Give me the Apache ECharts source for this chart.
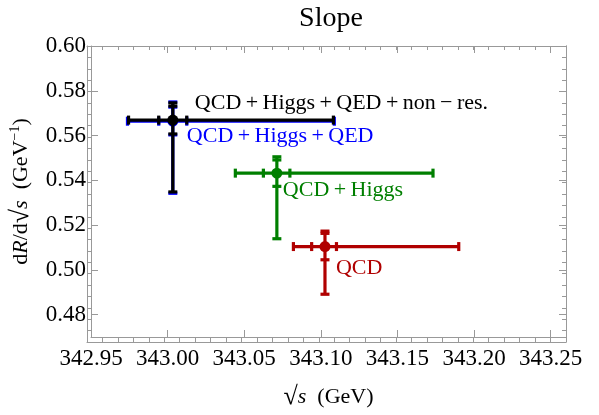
<!DOCTYPE html>
<html>
<head>
<meta charset="utf-8">
<script src="https://cdn.jsdelivr.net/npm/echarts@6/dist/echarts.min.js"></script>
<style>
  html, body { margin: 0; padding: 0; background: #fff; }
  #chart { width: 599px; height: 415px; }
</style>
</head>
<body>
<div id="chart"></div>
<script>
// series, drawn in this order (black on top of blue)
var names = ['QCD', 'QCD+Higgs', 'QCD+Higgs+QED', 'QCD+Higgs+QED+non−res.'];
var colors = ['#b00000', '#007f00', '#0000ff', '#000000'];

// central values
var xVals = [343.1027, 343.0713, 343.0034, 343.0034];
var yVals = [0.5104, 0.5432, 0.5664, 0.5669];

// total error range (outer caps)
var xLow  = [343.0821, 343.0442, 342.9738, 342.9745];
var xHigh = [343.1900, 343.1732, 343.1088, 343.1082];
var yLow  = [0.4891, 0.5139, 0.5342, 0.5348];
var yHigh = [0.5173, 0.5505, 0.5750, 0.5746];

// inner error range (inner caps)
var xInLow  = [343.0940, 343.0625, 342.9942, 342.9942];
var xInHigh = [343.1102, 343.0798, 343.0125, 343.0125];
var yInLow  = [0.5045, 0.5373, 0.5603, 0.5607];
var yInHigh = [0.5163, 0.5491, 0.5727, 0.5731];

// axis ticks
var xTicks = [342.95, 343.00, 343.05, 343.10, 343.15, 343.20, 343.25];
var yTicks = [0.48, 0.50, 0.52, 0.54, 0.56, 0.58, 0.60];

// label placement relative to the point (pixels)
var labelOffsets = [[11, 22], [6, 17], [14, 15], [22, -17]];

var serif = "'Liberation Serif', 'Times New Roman', serif";
var frameColor = '#999999';

var points = xVals.map(function (x, i) {
  return [x, yVals[i], xLow[i], xHigh[i], yLow[i], yHigh[i], xInLow[i], xInHigh[i], yInLow[i], yInHigh[i]];
});

function pretty(name) {
  return name.replace(/([+−])/g, '\u2009$1\u2009');
}

function renderErrorBar(params, api) {
  var i = params.dataIndex;
  var c = colors[i];
  var p = api.coord([api.value(0), api.value(1)]);
  var xl = api.coord([api.value(2), api.value(1)]);
  var xh = api.coord([api.value(3), api.value(1)]);
  var yl = api.coord([api.value(0), api.value(4)]);
  var yh = api.coord([api.value(0), api.value(5)]);
  var xil = api.coord([api.value(6), api.value(1)]);
  var xih = api.coord([api.value(7), api.value(1)]);
  var yil = api.coord([api.value(0), api.value(8)]);
  var yih = api.coord([api.value(0), api.value(9)]);
  var cap = 4.5;
  var st = { stroke: c, lineWidth: 3.2 };
  function line(x1, y1, x2, y2) {
    return { type: 'line', shape: { x1: x1, y1: y1, x2: x2, y2: y2 }, style: st };
  }
  var off = labelOffsets[i];
  return {
    type: 'group',
    children: [
      line(xl[0], p[1], xh[0], p[1]),
      line(p[0], yl[1], p[0], yh[1]),
      line(xl[0], p[1] - cap, xl[0], p[1] + cap),
      line(xh[0], p[1] - cap, xh[0], p[1] + cap),
      line(xil[0], p[1] - cap, xil[0], p[1] + cap),
      line(xih[0], p[1] - cap, xih[0], p[1] + cap),
      line(p[0] - cap, yl[1], p[0] + cap, yl[1]),
      line(p[0] - cap, yh[1], p[0] + cap, yh[1]),
      line(p[0] - cap, yil[1], p[0] + cap, yil[1]),
      line(p[0] - cap, yih[1], p[0] + cap, yih[1]),
      { type: 'circle', shape: { cx: p[0], cy: p[1], r: 5.5 }, style: { fill: c } },
      {
        type: 'text',
        x: p[0] + off[0],
        y: p[1] + off[1],
        style: {
          text: pretty(names[i]),
          fill: c,
          font: '22px ' + serif,
          align: 'left',
          verticalAlign: 'middle'
        }
      }
    ]
  };
}

var gridBox = { left: 87, right: 33, top: 46, bottom: 73 };

function xAxisCfg(grid, pos, major) {
  return {
    type: 'value', gridIndex: grid, position: pos,
    min: 342.95, max: 343.26,
    interval: major ? 0.05 : 0.01,
    axisLine: { show: true, onZero: false, lineStyle: { color: frameColor, width: 1 } },
    axisTick: major
      ? { show: true, inside: true, length: 7, customValues: xTicks, lineStyle: { color: frameColor } }
      : { show: true, inside: true, length: 4, lineStyle: { color: frameColor } },
    axisLabel: (major && pos === 'bottom')
      ? { show: true, customValues: xTicks, margin: 10, color: '#000', fontFamily: serif, fontSize: 23,
          formatter: function (v) { return v.toFixed(2); } }
      : { show: false },
    splitLine: { show: false }
  };
}

function yAxisCfg(grid, pos, major) {
  var cfg = {
    type: 'value', gridIndex: grid, position: pos,
    min: 0.47, max: 0.60,
    axisLine: { show: true, onZero: false, lineStyle: { color: frameColor, width: 1 } },
    axisTick: major
      ? { show: true, inside: true, length: 7, customValues: yTicks, lineStyle: { color: frameColor } }
      : { show: true, inside: true, length: 4, lineStyle: { color: frameColor } },
    axisLabel: (major && pos === 'left')
      ? { show: true, customValues: yTicks, margin: 5, color: '#000', fontFamily: serif, fontSize: 23,
          formatter: function (v) { return v.toFixed(2); } }
      : { show: false },
    splitLine: { show: false }
  };
  if (!major) cfg.interval = 0.005;
  return cfg;
}

var xMainBottom = xAxisCfg(0, 'bottom', true);
xMainBottom.name = '{r|√}{i|s}  (GeV)';
xMainBottom.nameLocation = 'middle';
xMainBottom.nameGap = 47;
xMainBottom.nameTextStyle = {
  color: '#000', fontFamily: serif, fontSize: 22,
  rich: {
    r: { fontFamily: serif, fontSize: 26, fontWeight: 'bold', color: '#000' },
    i: { fontFamily: serif, fontSize: 22, fontStyle: 'italic', color: '#000' }
  }
};

var yMainLeft = yAxisCfg(0, 'left', true);
yMainLeft.name = 'd{i|R}/d{r|√}{i|s}  (GeV{sup|−1})';
yMainLeft.nameLocation = 'middle';
yMainLeft.nameGap = 57;
yMainLeft.nameTextStyle = {
  color: '#000', fontFamily: serif, fontSize: 22,
  rich: {
    r: { fontFamily: serif, fontSize: 26, fontWeight: 'bold', color: '#000' },
    i: { fontFamily: serif, fontSize: 22, fontStyle: 'italic', color: '#000' },
    sup: { fontFamily: serif, fontSize: 14, verticalAlign: 'top', color: '#000' }
  }
};

var chart = echarts.init(document.getElementById('chart'), null, { renderer: 'canvas' });
var option = {
  backgroundColor: '#fff',
  animation: false,
  title: {
    text: 'Slope',
    left: 326,
    textAlign: 'center',
    top: 0,
    textStyle: { fontFamily: serif, fontSize: 28, fontWeight: 'normal', color: '#000' }
  },
  grid: [
    Object.assign({}, gridBox),
    Object.assign({}, gridBox)
  ],
  xAxis: [
    xMainBottom,
    xAxisCfg(0, 'top', true),
    xAxisCfg(1, 'bottom', false),
    xAxisCfg(1, 'top', false)
  ],
  yAxis: [
    yMainLeft,
    yAxisCfg(0, 'right', true),
    yAxisCfg(1, 'left', false),
    yAxisCfg(1, 'right', false)
  ],
  series: [
    {
      type: 'custom',
      xAxisIndex: 0,
      yAxisIndex: 0,
      renderItem: renderErrorBar,
      data: points,
      clip: false,
      z: 10
    }
  ]
};
chart.setOption(option);
</script>
</body>
</html>
